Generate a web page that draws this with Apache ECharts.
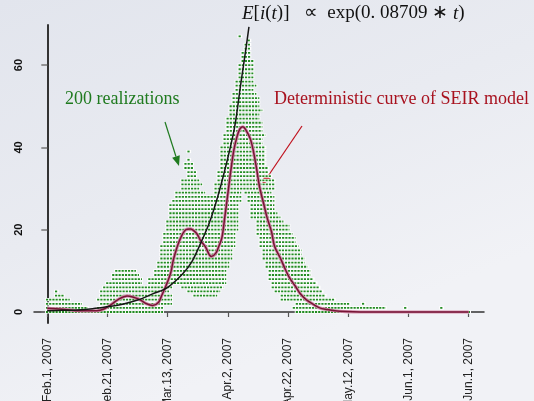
<!DOCTYPE html>
<html>
<head>
<meta charset="utf-8">
<script src="https://cdn.jsdelivr.net/npm/echarts@6/dist/echarts.min.js"></script>
<style>
  html, body { margin: 0; padding: 0; background: #e8eaf0; }
  #chart { width: 534px; height: 401px; }
</style>
</head>
<body>
<div id="chart"></div>
<script>
// Days since Feb 1, 2007 for the axis ticks, and their labels
const tickDays = [0, 20, 40, 60, 80, 100, 120, 140];
const tickLabels = ['Feb.1, 2007', 'Feb.21, 2007', 'Mar.13, 2007', 'Apr.2, 2007',
                    'Apr.22, 2007', 'May.12, 2007', 'Jun.1, 2007', 'Jun.1, 2007'];
const yTicks = [0, 20, 40, 60];

// Stochastic realizations: for each infective count, the day spans covered
// [count, firstDay, lastDay]
const cloudRows = [
  [0, 0, 38], [0, 83, 140],
  [1, 0, 13], [1, 17, 38], [1, 82, 112], [1, 119, 119], [1, 131, 131],
  [2, 0, 11], [2, 18, 41], [2, 83, 100], [2, 105, 105],
  [3, 0, 7], [3, 17, 41], [3, 78, 95],
  [4, 3, 5], [4, 18, 41], [4, 49, 56], [4, 78, 92],
  [5, 3, 3], [5, 18, 40], [5, 47, 57], [5, 76, 91],
  [6, 19, 41], [6, 45, 58], [6, 75, 90],
  [7, 20, 31], [7, 34, 59], [7, 75, 89],
  [8, 22, 31], [8, 34, 59], [8, 74, 88],
  [9, 22, 30], [9, 36, 59], [9, 74, 87],
  [10, 23, 29], [10, 36, 59], [10, 74, 87],
  [11, 37, 60], [11, 73, 86],
  [12, 37, 60], [12, 73, 85],
  [13, 38, 61], [13, 72, 85],
  [14, 38, 61], [14, 72, 84],
  [15, 38, 61], [15, 72, 84],
  [16, 38, 62], [16, 71, 83],
  [17, 39, 62], [17, 71, 82],
  [18, 39, 62], [18, 71, 82],
  [19, 39, 62], [19, 70, 81],
  [20, 40, 63], [20, 70, 80],
  [21, 40, 63], [21, 70, 80],
  [22, 40, 63], [22, 70, 78],
  [23, 41, 63], [23, 68, 77],
  [24, 41, 63], [24, 68, 76],
  [25, 41, 63], [25, 68, 75],
  [26, 41, 63], [26, 68, 75],
  [27, 42, 64], [27, 67, 75],
  [28, 43, 64], [28, 67, 75],
  [29, 43, 52], [29, 56, 64], [29, 66, 74],
  [30, 45, 50], [30, 56, 75],
  [31, 45, 51], [31, 56, 75],
  [32, 45, 50], [32, 57, 75],
  [33, 47, 49], [33, 57, 74],
  [34, 47, 49], [34, 57, 73],
  [35, 46, 48], [35, 58, 73],
  [36, 46, 48], [36, 58, 72],
  [37, 47, 47], [37, 58, 72],
  [38, 58, 72],
  [39, 47, 47], [39, 58, 72],
  [40, 58, 72],
  [41, 59, 71], [42, 59, 71], [43, 59, 72], [44, 60, 71], [45, 60, 71],
  [46, 60, 71], [47, 60, 70], [48, 61, 70], [49, 61, 71], [50, 61, 70],
  [51, 62, 70], [52, 62, 70], [53, 62, 69], [54, 63, 68], [55, 63, 69],
  [56, 63, 68], [57, 64, 68], [58, 64, 68], [59, 64, 68], [60, 64, 68],
  [61, 65, 68], [62, 65, 67], [63, 65, 67], [64, 66, 67], [65, 66, 67],
  [66, 67, 67], [67, 64, 64]
];

// Exponential-growth fit E[i(t)]
const expDays = [0, 5, 10, 15, 20, 25, 30, 35, 40, 45, 48, 51, 54, 57, 60, 62, 63, 64, 65, 66, 67];
const expVals = [0.3, 0.4, 0.5, 0.8, 1.3, 1.9, 2.9, 4.4, 6.0, 9.3, 12.2, 16.8, 22.0, 29.0, 37.5, 44.0, 48.5, 54.0, 59.0, 64.0, 69.3];

// Deterministic SEIR curve
const seirDays = [0, 5, 11, 16.5, 19, 21, 23.5, 26.5, 29, 31, 33, 35, 37, 38, 39.5, 41, 42, 44, 46, 47.5,
                  49.5, 51, 52.5, 54.5, 56, 57, 58, 59, 60, 61, 62, 63, 64, 65, 66, 67.5, 68.5, 69.5,
                  70.5, 72, 73, 74.5, 75.5, 77.5, 79, 80.5, 82.5, 84, 86, 88.5, 90.5, 93, 95.5, 99, 104, 140];
const seirVals = [0.9, 0.7, 0.3, 0.3, 0.8, 1.7, 3.0, 3.9, 3.5, 2.9, 2.0, 1.6, 2.4, 4.0, 6.5, 9.5, 13.0, 17.5, 20.0, 20.2,
                  19.2, 17.3, 15.9, 13.5, 14.3, 16.0, 18.0, 23.2, 28.8, 34.5, 39.4, 42.5, 44.5, 45.0, 44.2, 42.0, 39.0, 35.0,
                  30.5, 26.0, 23.0, 19.5, 16.0, 13.0, 10.5, 8.3, 6.2, 4.5, 3.0, 1.8, 1.0, 0.6, 0.3, 0.1, 0, 0];

const pairs = (xs, ys) => xs.map((x, i) => [x, ys[i]]);

const chart = echarts.init(document.getElementById('chart'));

function arrow(x1, y1, x2, y2, color) {
  const dx = x2 - x1, dy = y2 - y1, len = Math.hypot(dx, dy);
  const ux = dx / len, uy = dy / len, nx = -uy, ny = ux;
  const L = 10, W = 4;
  const bx = x2 - ux * L, by = y2 - uy * L;
  return [
    { type: 'line', shape: { x1: x1, y1: y1, x2: bx, y2: by }, style: { stroke: color, lineWidth: 1.2 } },
    { type: 'polygon', shape: { points: [[x2, y2], [bx + nx * W, by + ny * W], [bx - nx * W, by - ny * W]] },
      style: { fill: color } }
  ];
}

const option = {
  animation: false,
  backgroundColor: {
    type: 'linear', x: 0, y: 0, x2: 0.3, y2: 1,
    colorStops: [
      { offset: 0, color: '#e2e5ed' },
      { offset: 0.55, color: '#e9ebf1' },
      { offset: 1, color: '#f1f2f6' }
    ]
  },
  grid: { left: 34, right: 50, top: 25, bottom: 78, containLabel: false, outerBoundsMode: 'none' },
  xAxis: {
    type: 'value', min: -4.42, max: 145.1,
    axisLine: { show: true, lineStyle: { color: '#333', width: 1.5 } },
    axisTick: { show: true, customValues: tickDays, length: 5, lineStyle: { color: '#555', width: 1.2 } },
    axisLabel: {
      customValues: tickDays, rotate: 90, margin: 15,
      fontFamily: 'Liberation Sans', fontSize: 12, color: '#222',
      formatter: v => tickLabels[tickDays.indexOf(v)] || ''
    },
    splitLine: { show: false }
  },
  yAxis: {
    type: 'value', min: -2.67, max: 69.75,
    axisLine: { show: true, lineStyle: { color: '#333', width: 2 } },
    axisTick: { show: true, customValues: yTicks, length: 6, lineStyle: { color: '#777', width: 1.5 } },
    axisLabel: {
      customValues: yTicks, rotate: 90, margin: 10,
      fontFamily: 'Liberation Sans', fontSize: 11, fontWeight: 'bold', color: '#111'
    },
    splitLine: { show: false }
  },
  series: [
    {
      type: 'custom',
      name: 'realizations',
      data: cloudRows,
      encode: { x: [1, 2], y: 0 },
      z: 1,
      renderItem: function (params, api) {
        const v = api.value(0), d0 = api.value(1), d1 = api.value(2);
        const p0 = api.coord([d0 - 0.45, v]);
        const p1 = api.coord([d1 + 0.45, v]);
        return {
          type: 'group',
          children: [
            { type: 'line', shape: { x1: p0[0] - 1, y1: p0[1], x2: p1[0] + 1, y2: p1[1] },
              style: { stroke: '#ffffff', lineWidth: 3.2 } },
            { type: 'line', shape: { x1: p0[0], y1: p0[1], x2: p1[0], y2: p1[1] },
              style: { stroke: '#238c23', lineWidth: 1.8, lineDash: [2.2, 1] } }
          ]
        };
      }
    },
    {
      type: 'line', name: 'SEIR halo', data: pairs(seirDays, seirVals), smooth: 0.35,
      showSymbol: false, z: 3, silent: true,
      lineStyle: { color: '#cf8ba8', width: 3.2 }
    },
    {
      type: 'line', name: 'SEIR', data: pairs(seirDays, seirVals), smooth: 0.35,
      showSymbol: false, z: 4,
      lineStyle: { color: '#761434', width: 1.5 }
    },
    {
      type: 'line', name: 'exp fit', data: pairs(expDays, expVals), smooth: 0.35,
      showSymbol: false, z: 5,
      lineStyle: { color: '#151515', width: 1.5 }
    }
  ],
  graphic: [
    {
      type: 'text', left: 242, top: 4, z: 10,
      style: {
        text: '{i|E}[{i|i}({i|t})]   ∝  exp(0. 08709 ∗ {i|t})',
        fontFamily: 'Liberation Serif', fontSize: 19, fill: '#111',
        rich: { i: { fontStyle: 'italic', fontFamily: 'Liberation Serif', fontSize: 19, color: '#111' } }
      }
    },
    {
      type: 'text', left: 65, top: 90, z: 10,
      style: { text: '200 realizations', fontFamily: 'Liberation Serif', fontSize: 18, fill: '#1f7a1f' }
    },
    {
      type: 'text', left: 274, top: 90, z: 10,
      style: { text: 'Deterministic curve of SEIR model', fontFamily: 'Liberation Serif', fontSize: 18, fill: '#a8121f' }
    },
    { type: 'group', z: 10, children: arrow(165, 122, 179, 166, '#1f7a1f') },
    { type: 'group', z: 10, children: arrow(302, 126, 262, 185, '#c0101c') }
  ]
};

chart.setOption(option);
</script>
</body>
</html>
